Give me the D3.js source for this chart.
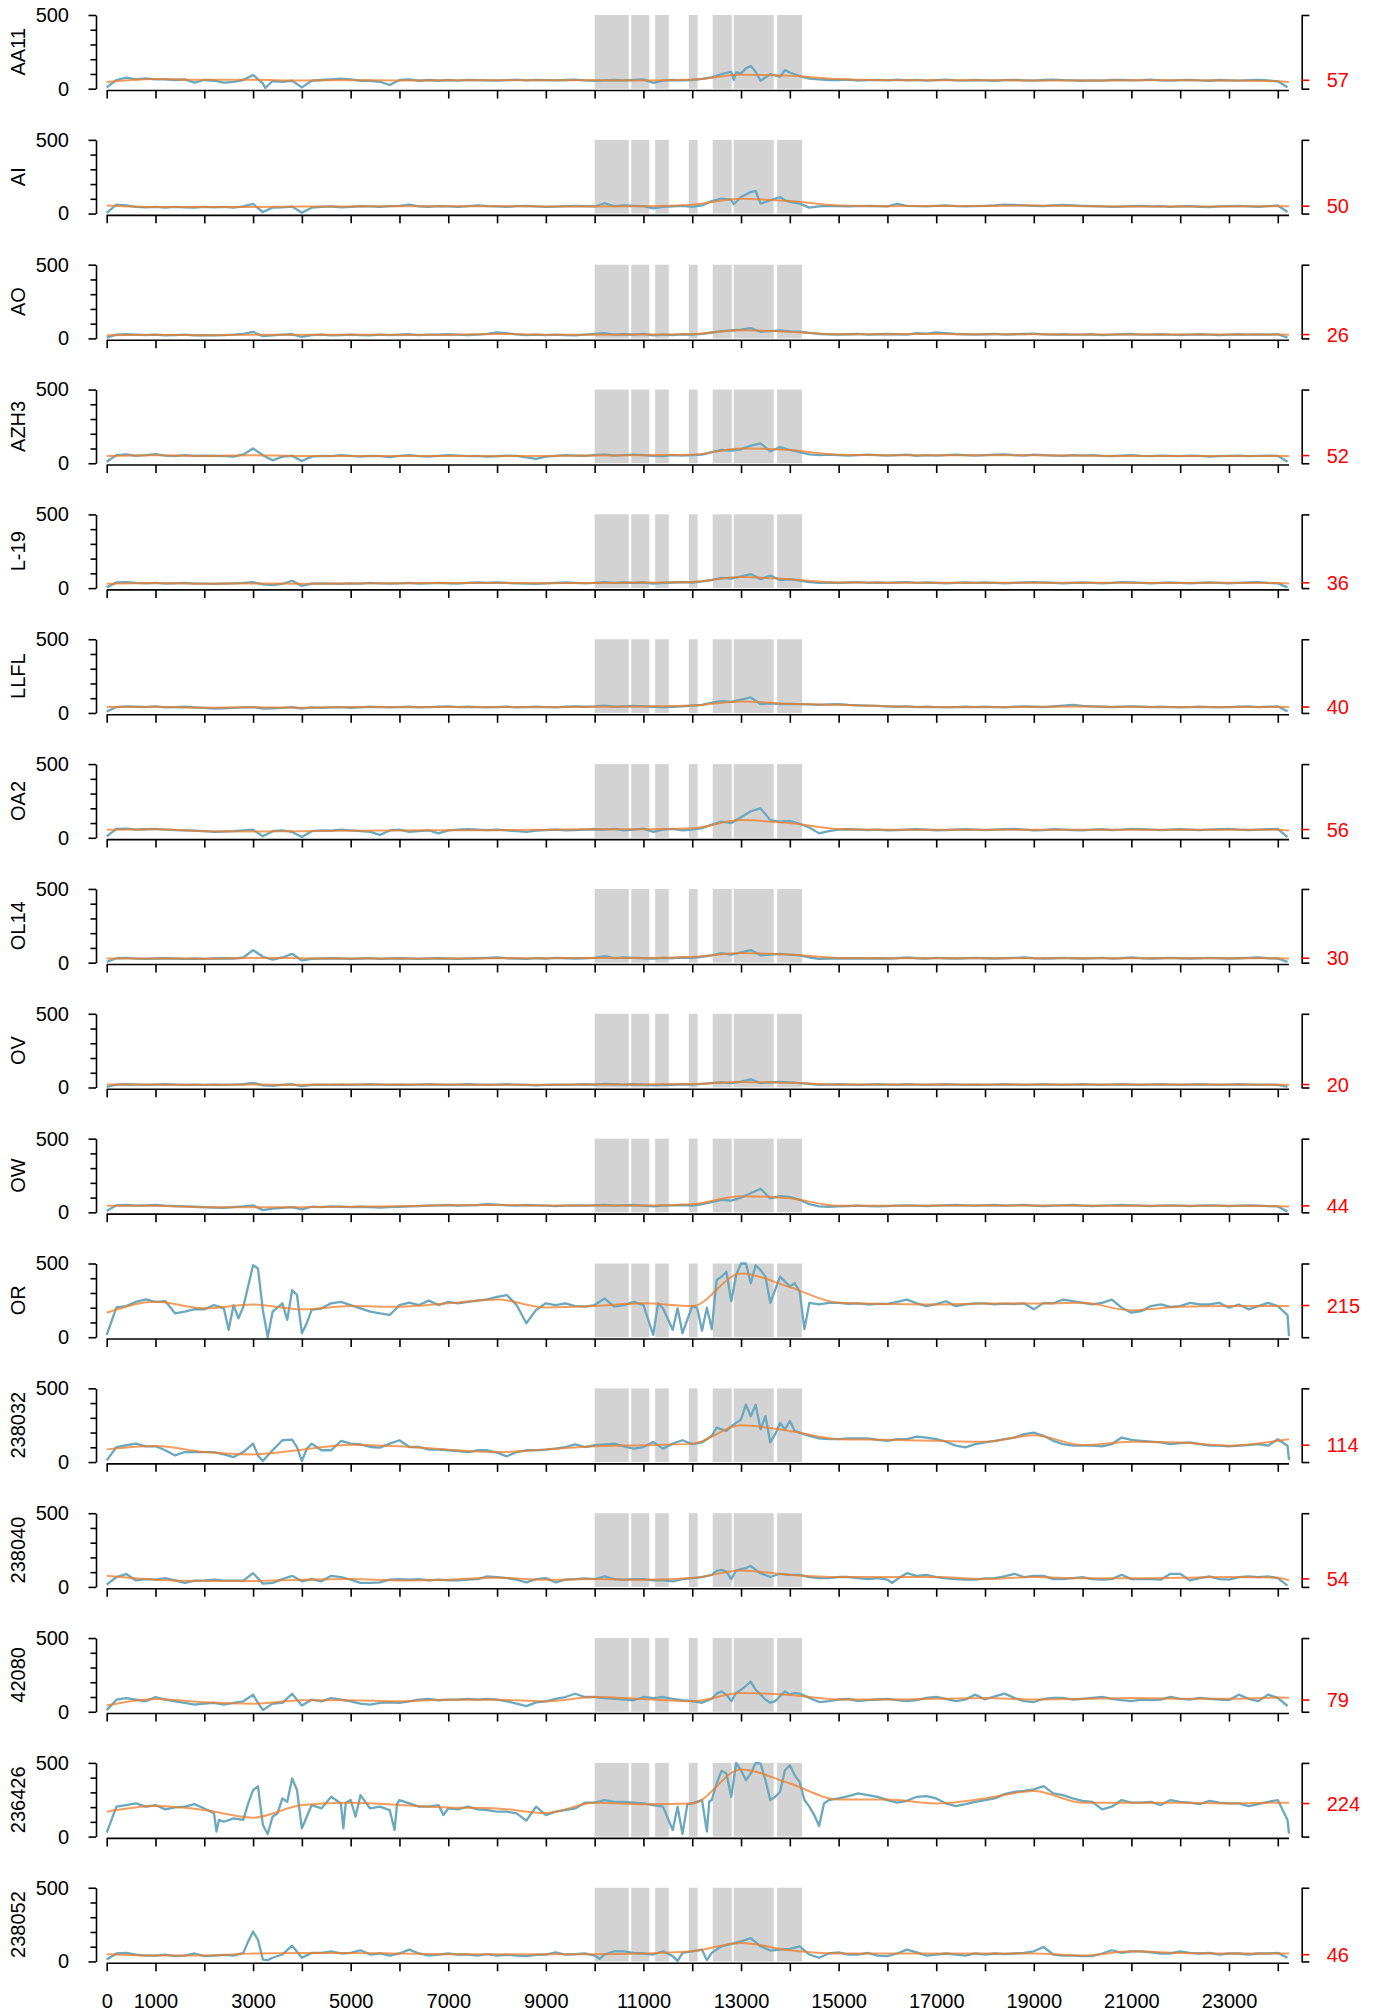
<!DOCTYPE html>
<html>
<head>
<meta charset="utf-8">
<title>series</title>
<script src="https://d3js.org/d3.v7.min.js"></script>
<style>
body { margin: 0; background: #fff; }
svg { display: block; font-family: "Liberation Sans", Arial, sans-serif; }
</style>
</head>
<body>
<script>
// station names and their mean values (red label on the right)
const stations = ["AA11", "AI", "AO", "AZH3", "L-19", "LLFL", "OA2", "OL14", "OV", "OW",
                  "OR", "238032", "238040", "42080", "236426", "238052"];
const stationMeans = [57, 50, 26, 52, 36, 40, 56, 30, 20, 44, 215, 114, 54, 79, 224, 46];

// shaded periods
const shadeStart = [10000, 10750, 11240, 11930, 12420, 12850, 13740];
const shadeEnd   = [10700, 11120, 11520, 12110, 12810, 13670, 14250];

// ticks
const xTicks = d3.range(0, 24001, 1000);
const xLabels = [0, 1000, 3000, 5000, 7000, 9000, 11000, 13000, 15000, 17000, 19000, 21000, 23000];
const yTicks = [0, 100, 200, 300, 400, 500];

// raw series sampled every 200 units (plus a few extra [x, value] points for sharp spikes)
const sampleStep = 200;
// smoothed series x positions
const smoothX = [0, 1000, 2000, 3000, 4000, 5000, 6000, 7000, 8000, 9000, 10000, 11000, 12000,
                 13000, 14000, 15000, 16000, 17000, 18000, 19000, 20000, 21000, 22000, 23000, 24000, 24230];

const rawAA11 = [9, 59, 75, 63, 70, 63, 63, 59, 63, 41,
 59, 54, 41, 47, 59, 93, 36, 52, 47, 54,
 9, 54, 59, 63, 68, 63, 54, 54, 47, 25,
 59, 63, 54, 59, 54, 59, 55, 60, 58, 56,
 55, 58, 62, 57, 60, 58, 56, 59, 61, 57,
 54, 57, 59, 56, 60, 63, 40, 55, 59, 57,
 59, 66, 77, 99, 115, 104, 154, 54, 99, 81,
 110, 86, 68, 63, 59, 59, 62, 55, 58, 60,
 57, 62, 56, 60, 55, 58, 61, 57, 55, 59,
 56, 54, 58, 60, 57, 55, 59, 61, 58, 56,
 54, 57, 55, 59, 60, 56, 58, 62, 57, 55,
 58, 60, 56, 54, 59, 57, 55, 58, 60, 56,
 50, 10];
const extrasAA11 = [[3250, 5], [12850, 59], [12900, 110], [13100, 138], [13300, 115], [13900, 127]];
const smoothAA11 = [45, 65, 60, 60, 55, 58, 55, 57, 57, 57, 57, 55, 62, 95, 88, 65, 58, 57, 57, 56, 56, 57, 57, 56, 50, 45];

const rawAI = [5, 60, 55, 45, 42, 45, 40, 45, 42, 40,
 45, 42, 45, 40, 48, 65, 10, 40, 42, 47,
 5, 40, 45, 48, 42, 45, 50, 48, 45, 50,
 52, 60, 48, 45, 50, 48, 45, 50, 55, 50,
 48, 45, 50, 52, 48, 45, 47, 50, 52, 50,
 48, 70, 50, 55, 52, 50, 35, 45, 48, 52,
 45, 55, 85, 101, 94, 112, 146, 67, 90, 112,
 79, 67, 40, 49, 52, 50, 48, 50, 52, 50,
 48, 65, 52, 50, 48, 52, 55, 50, 48, 50,
 52, 55, 60, 58, 55, 52, 50, 55, 58, 55,
 52, 50, 48, 45, 47, 50, 52, 48, 50, 45,
 48, 50, 46, 44, 48, 50, 52, 48, 45, 50,
 55, 10];
const extrasAI = [[12850, 63], [13300, 153], [13900, 90]];
const smoothAI = [55, 45, 45, 45, 47, 48, 50, 50, 50, 48, 48, 50, 60, 100, 85, 55, 50, 52, 52, 55, 50, 48, 48, 48, 50, 50];

const rawAO = [5, 25, 28, 25, 22, 25, 20, 22, 25, 20,
 22, 20, 22, 25, 30, 45, 15, 20, 25, 28,
 10, 22, 25, 20, 22, 25, 22, 20, 25, 22,
 25, 28, 22, 25, 25, 28, 25, 22, 25, 30,
 40, 35, 28, 22, 25, 22, 25, 22, 20, 25,
 30, 35, 25, 28, 25, 30, 20, 25, 22, 28,
 25, 30, 40, 50, 55, 60, 70, 45, 50, 55,
 48, 45, 38, 30, 28, 25, 28, 30, 25, 28,
 30, 28, 25, 35, 32, 40, 35, 30, 28, 25,
 28, 30, 25, 28, 30, 32, 28, 25, 28, 26,
 25, 28, 22, 25, 28, 30, 26, 25, 28, 25,
 24, 26, 28, 25, 22, 26, 28, 25, 27, 25,
 28, 5];
const smoothAO = [22, 25, 22, 25, 25, 24, 25, 25, 30, 25, 25, 26, 30, 55, 45, 28, 28, 30, 28, 28, 26, 26, 26, 26, 26, 25];

const rawAZH3 = [10, 55, 60, 50, 55, 62, 52, 48, 55, 50,
 52, 50, 48, 45, 60, 100, 55, 20, 45, 50,
 15, 45, 50, 48, 55, 50, 45, 50, 48, 42,
 50, 55, 48, 45, 50, 55, 52, 48, 50, 45,
 48, 52, 50, 40, 30, 45, 50, 55, 52, 50,
 55, 60, 52, 55, 58, 55, 50, 48, 55, 52,
 55, 58, 75, 90, 85, 95, 120, 135, 80, 110,
 90, 75, 60, 55, 58, 55, 52, 55, 58, 55,
 52, 55, 58, 50, 55, 52, 55, 58, 55, 52,
 55, 58, 60, 55, 52, 58, 55, 52, 50, 55,
 52, 55, 50, 48, 52, 55, 50, 48, 52, 50,
 48, 52, 50, 45, 48, 50, 52, 48, 50, 52,
 50, 10];
const smoothAZH3 = [50, 55, 50, 55, 50, 50, 50, 50, 48, 50, 52, 55, 58, 100, 90, 58, 55, 55, 55, 55, 52, 50, 50, 50, 50, 50];

const rawL19 = [5, 38, 40, 35, 32, 35, 30, 32, 35, 30,
 30, 28, 30, 32, 35, 40, 25, 20, 28, 50,
 15, 30, 32, 30, 28, 32, 30, 35, 32, 30,
 32, 35, 30, 32, 35, 32, 30, 35, 38, 35,
 38, 35, 32, 30, 28, 32, 35, 38, 35, 32,
 35, 40, 35, 38, 35, 38, 30, 35, 38, 40,
 38, 45, 55, 70, 65, 80, 95, 60, 85, 55,
 60, 50, 40, 35, 38, 35, 38, 40, 35, 38,
 35, 38, 40, 35, 38, 35, 32, 35, 38, 35,
 38, 35, 32, 35, 38, 40, 38, 35, 32, 35,
 38, 35, 32, 35, 40, 38, 35, 32, 35, 38,
 35, 32, 35, 38, 35, 32, 35, 38, 40, 35,
 32, 5];
const smoothL19 = [30, 35, 30, 32, 30, 32, 33, 35, 36, 33, 35, 38, 42, 75, 60, 38, 37, 36, 36, 36, 36, 36, 35, 36, 34, 32];

const rawLLFL = [10, 40, 45, 42, 40, 45, 38, 40, 42, 38,
 35, 30, 32, 35, 38, 40, 30, 32, 35, 40,
 30, 38, 35, 38, 40, 35, 38, 42, 40, 38,
 40, 42, 38, 40, 42, 45, 40, 42, 40, 38,
 40, 42, 38, 40, 42, 40, 38, 42, 45, 42,
 45, 50, 42, 45, 48, 45, 42, 40, 42, 45,
 50, 55, 70, 80, 75, 90, 105, 60, 65, 60,
 62, 60, 58, 55, 58, 60, 55, 52, 50, 48,
 45, 42, 45, 40, 42, 40, 38, 40, 42, 40,
 42, 40, 38, 42, 45, 42, 40, 45, 50, 55,
 48, 45, 42, 40, 42, 45, 42, 40, 42, 40,
 38, 40, 42, 40, 38, 40, 42, 45, 40, 42,
 45, 10];
const smoothLLFL = [40, 42, 35, 38, 36, 40, 40, 40, 40, 40, 42, 44, 50, 78, 62, 55, 45, 40, 40, 42, 44, 42, 40, 40, 40, 40];

const rawOA2 = [10, 60, 62, 55, 58, 60, 55, 52, 50, 48,
 45, 40, 42, 45, 50, 55, 10, 45, 50, 40,
 5, 45, 50, 48, 55, 50, 45, 40, 20, 50,
 55, 40, 45, 50, 30, 50, 55, 58, 55, 52,
 55, 50, 45, 40, 48, 52, 55, 50, 52, 55,
 58, 55, 60, 50, 55, 62, 40, 55, 60, 50,
 55, 65, 90, 110, 100, 140, 180, 200, 120, 110,
 115, 95, 70, 30, 45, 55, 58, 55, 52, 55,
 50, 52, 55, 58, 55, 50, 52, 55, 58, 55,
 52, 55, 58, 60, 55, 50, 52, 58, 55, 52,
 50, 55, 58, 52, 55, 60, 58, 55, 52, 55,
 58, 55, 52, 55, 58, 60, 55, 52, 55, 58,
 60, 5];
const smoothOA2 = [55, 58, 45, 42, 45, 48, 50, 52, 52, 55, 58, 58, 65, 120, 100, 60, 55, 55, 55, 55, 55, 55, 55, 55, 55, 50];

const rawOL14 = [5, 30, 32, 28, 25, 28, 30, 28, 25, 28,
 25, 28, 30, 28, 35, 85, 40, 20, 35, 60,
 15, 25, 28, 30, 28, 25, 28, 30, 25, 28,
 30, 28, 25, 28, 30, 28, 25, 28, 30, 32,
 35, 30, 28, 25, 30, 28, 32, 30, 28, 30,
 32, 45, 30, 35, 32, 30, 28, 32, 30, 35,
 32, 40, 50, 65, 55, 70, 85, 50, 55, 60,
 55, 50, 35, 25, 28, 30, 28, 30, 28, 30,
 28, 30, 35, 30, 28, 32, 30, 28, 30, 32,
 30, 28, 30, 32, 35, 30, 28, 30, 32, 30,
 28, 30, 32, 28, 30, 35, 30, 28, 30, 32,
 30, 28, 30, 32, 30, 28, 30, 32, 35, 30,
 28, 5];
const smoothOL14 = [28, 28, 27, 32, 30, 28, 28, 28, 30, 30, 32, 32, 38, 65, 55, 32, 30, 30, 30, 30, 30, 30, 30, 30, 30, 28];

const rawOV = [5, 20, 22, 20, 18, 20, 22, 20, 18, 20,
 18, 20, 18, 20, 22, 32, 15, 12, 18, 22,
 10, 18, 20, 18, 20, 18, 20, 22, 20, 18,
 20, 18, 20, 22, 20, 18, 20, 22, 20, 18,
 20, 22, 20, 18, 15, 18, 20, 18, 20, 22,
 20, 25, 22, 20, 22, 20, 15, 20, 18, 22,
 20, 25, 30, 35, 30, 40, 55, 30, 35, 38,
 35, 30, 25, 18, 20, 22, 20, 18, 20, 22,
 20, 18, 22, 20, 18, 20, 22, 20, 18, 20,
 18, 20, 22, 20, 18, 20, 22, 20, 18, 20,
 22, 20, 18, 20, 22, 20, 18, 20, 22, 20,
 18, 20, 22, 20, 18, 20, 22, 20, 18, 20,
 18, 5];
const smoothOV = [20, 20, 19, 20, 19, 20, 20, 20, 19, 19, 20, 21, 24, 38, 32, 20, 20, 20, 20, 20, 20, 20, 20, 20, 19, 18];

const rawOW = [10, 48, 50, 45, 48, 50, 45, 42, 40, 38,
 35, 32, 30, 35, 40, 48, 15, 25, 30, 35,
 20, 38, 35, 40, 38, 35, 38, 35, 32, 35,
 38, 40, 42, 45, 48, 50, 45, 48, 50, 55,
 52, 48, 45, 50, 48, 45, 42, 45, 48, 45,
 48, 50, 45, 48, 50, 45, 40, 45, 48, 50,
 45, 55, 70, 85, 80, 100, 130, 160, 95, 110,
 105, 85, 55, 40, 38, 40, 42, 45, 42, 40,
 42, 45, 48, 45, 42, 45, 48, 50, 48, 45,
 48, 50, 45, 48, 50, 45, 42, 45, 48, 50,
 45, 42, 45, 48, 50, 48, 45, 42, 45, 48,
 45, 42, 45, 48, 45, 42, 45, 48, 45, 42,
 40, 5];
const smoothOW = [45, 45, 35, 35, 35, 38, 42, 48, 50, 46, 46, 46, 55, 110, 95, 45, 45, 46, 46, 46, 46, 45, 45, 45, 42, 40];

const rawOR = [16, 203, 211, 240, 256, 240, 245, 162, 173, 190,
 189, 218, 196, 218, 207, 488, 185, 173, 230, 320,
 27, 185, 196, 230, 240, 218, 196, 173, 162, 151,
 218, 234, 218, 248, 218, 240, 230, 240, 248, 256,
 274, 286, 218, 95, 185, 230, 218, 230, 211, 207,
 218, 263, 207, 218, 240, 218, 16, 196, 50, 27,
 211, 44, 55, 410, 244, 500, 366, 455, 233, 411,
 344, 311, 233, 222, 233, 233, 226, 230, 222, 226,
 226, 240, 255, 230, 211, 225, 244, 211, 222, 230,
 229, 222, 228, 225, 230, 189, 233, 230, 255, 244,
 233, 222, 233, 255, 200, 166, 177, 211, 222, 206,
 211, 233, 222, 222, 233, 200, 222, 189, 211, 233,
 211, 150];
const extrasOR = [[2500, 50], [2700, 128], [3100, 466], [3300, 0], [3700, 117], [3900, 286], [4100, 95],
 [11300, 230], [11700, 196], [12100, 200], [12300, 200], [12500, 388], [12700, 444], [12900, 422],
 [13100, 500], [13300, 488], [13500, 411], [13700, 322], [13900, 377], [14100, 366], [14300, 55], [24230, 7]];
const smoothOR = [166, 240, 196, 222, 189, 211, 207, 230, 256, 202, 211, 230, 211, 433, 340, 233, 226, 222, 229, 229, 233, 182, 206, 211, 211, 211];

const raw238032 = [11, 102, 114, 125, 107, 107, 80, 45, 68, 68,
 68, 68, 52, 34, 68, 125, 7, 80, 148, 152,
 7, 125, 80, 80, 143, 125, 120, 102, 98, 125,
 148, 102, 102, 84, 84, 80, 75, 68, 80, 80,
 64, 39, 68, 80, 80, 84, 91, 102, 120, 102,
 114, 120, 125, 107, 91, 102, 136, 91, 125, 148,
 122, 133, 178, 222, 244, 289, 311, 222, 133, 266,
 278, 200, 178, 160, 155, 155, 160, 160, 160, 151,
 144, 155, 155, 173, 166, 155, 138, 111, 100, 122,
 133, 144, 155, 166, 189, 200, 178, 144, 122, 111,
 111, 111, 107, 122, 166, 151, 144, 138, 133, 122,
 129, 133, 122, 111, 111, 107, 111, 115, 122, 111,
 155, 111];
const extras238032 = [[3100, 45], [3300, 45], [3900, 102], [4100, 90], [12500, 233], [12700, 211], [12900, 266],
 [13100, 389], [13300, 389], [13500, 311], [13700, 189], [13900, 222], [14100, 211], [24230, 15]];
const smooth238032 = [86, 109, 68, 52, 84, 118, 107, 84, 68, 86, 107, 114, 125, 249, 211, 155, 151, 144, 138, 182, 115, 138, 133, 111, 144, 155];

const raw238040 = [16, 67, 87, 44, 53, 49, 60, 44, 27, 42,
 44, 49, 42, 42, 42, 93, 22, 27, 53, 75,
 38, 53, 38, 75, 67, 49, 27, 27, 31, 49,
 53, 49, 53, 44, 49, 44, 44, 49, 53, 71,
 67, 60, 49, 31, 53, 60, 31, 49, 53, 58,
 53, 71, 53, 49, 53, 53, 44, 44, 38, 53,
 60, 67, 82, 115, 53, 120, 142, 93, 67, 89,
 82, 82, 67, 60, 60, 67, 67, 60, 53, 60,
 49, 53, 93, 75, 82, 67, 58, 53, 49, 49,
 58, 60, 71, 89, 67, 75, 75, 53, 53, 60,
 67, 53, 49, 53, 82, 53, 53, 53, 49, 89,
 89, 44, 60, 71, 53, 49, 67, 71, 67, 71,
 60, 9];
const extras238040 = [[12500, 109], [12700, 104], [12900, 111], [13100, 127], [13300, 115], [16100, 27]];
const smooth238040 = [75, 49, 40, 40, 49, 53, 44, 49, 62, 49, 53, 49, 60, 111, 82, 67, 67, 67, 53, 67, 58, 58, 62, 67, 62, 44];

const raw42080 = [11, 82, 93, 82, 71, 100, 82, 71, 60, 49,
 55, 60, 49, 60, 71, 115, 11, 55, 60, 122,
 42, 82, 71, 93, 82, 71, 55, 49, 60, 64,
 60, 71, 82, 87, 78, 82, 82, 87, 82, 87,
 82, 71, 55, 38, 64, 71, 87, 100, 122, 100,
 100, 93, 87, 82, 78, 100, 93, 100, 87, 78,
 72, 61, 88, 138, 72, 149, 204, 116, 61, 105,
 116, 123, 94, 66, 72, 83, 88, 72, 79, 83,
 88, 79, 72, 79, 94, 101, 88, 72, 83, 116,
 83, 105, 123, 94, 72, 66, 88, 94, 94, 83,
 88, 94, 101, 88, 79, 72, 83, 79, 83, 101,
 88, 83, 94, 88, 83, 79, 116, 88, 72, 116,
 94, 39];
const extras42080 = [[3100, 60], [3900, 82], [12500, 123], [12700, 116], [12900, 127], [13100, 175],
 [13300, 149], [13500, 83], [13700, 72], [13900, 138], [14100, 127]];
const smooth42080 = [42, 87, 64, 55, 78, 78, 71, 82, 82, 71, 100, 87, 71, 127, 114, 83, 83, 88, 94, 83, 88, 94, 88, 88, 96, 95];

const raw236426 = [27, 203, 214, 225, 203, 214, 185, 198, 203, 220,
 191, 158, 101, 124, 113, 315, 79, 135, 259, 394,
 56, 214, 191, 270, 225, 248, 281, 191, 203, 180,
 248, 225, 203, 203, 214, 191, 185, 203, 185, 180,
 169, 169, 158, 108, 203, 146, 169, 180, 191, 230,
 230, 248, 236, 236, 230, 225, 214, 203, 45, 18,
 225, 248, 248, 446, 270, 450, 428, 495, 248, 304,
 484, 371, 203, 72, 248, 259, 274, 293, 281, 270,
 248, 230, 243, 270, 274, 259, 225, 207, 220, 236,
 248, 259, 288, 304, 310, 320, 342, 293, 281, 259,
 243, 236, 185, 203, 248, 230, 230, 236, 214, 248,
 236, 230, 220, 243, 230, 225, 225, 207, 220, 236,
 248, 113];
const extras236426 = [[2250, 34], [2300, 113], [2900, 225], [3100, 342], [3300, 18], [3500, 158], [3700, 236],
 [3900, 315], [4100, 135], [4850, 56], [4900, 230], [5100, 135], [5900, 45], [5950, 220], [6900, 146],
 [11700, 203], [11900, 220], [12300, 34], [12350, 240], [12500, 360], [12700, 428], [12900, 500],
 [13100, 383], [13300, 500], [13500, 383], [13700, 270], [13900, 450], [14100, 416], [14300, 248],
 [14500, 146], [14700, 225], [24230, 20]];
const smooth236426 = [169, 207, 180, 128, 214, 230, 214, 198, 191, 160, 230, 220, 225, 455, 360, 252, 252, 225, 259, 310, 230, 230, 230, 225, 230, 230];

const raw238052 = [13, 54, 58, 47, 40, 40, 47, 36, 40, 54,
 36, 40, 45, 40, 58, 203, 13, 25, 47, 107,
 25, 58, 58, 69, 54, 58, 76, 47, 54, 40,
 54, 80, 54, 40, 47, 54, 47, 47, 40, 49,
 40, 45, 40, 36, 45, 47, 62, 47, 49, 54,
 40, 47, 69, 69, 58, 54, 47, 69, 36, 58,
 69, 80, 58, 103, 120, 136, 158, 103, 74, 80,
 85, 103, 47, 25, 54, 62, 47, 47, 58, 40,
 36, 54, 80, 62, 40, 47, 54, 47, 40, 54,
 47, 54, 49, 54, 58, 69, 98, 47, 40, 40,
 36, 36, 54, 76, 58, 69, 69, 62, 54, 54,
 69, 58, 54, 58, 47, 54, 54, 47, 54, 54,
 58, 25];
const extras238052 = [[2900, 136], [3100, 147], [3300, 9], [10100, 18], [11700, 2], [12300, 9]];
const smooth238052 = [49, 40, 40, 54, 58, 58, 54, 49, 49, 49, 49, 54, 69, 125, 76, 54, 54, 54, 54, 54, 40, 69, 58, 54, 54, 54];

const rawSeries = [rawAA11, rawAI, rawAO, rawAZH3, rawL19, rawLLFL, rawOA2, rawOL14, rawOV, rawOW,
                   rawOR, raw238032, raw238040, raw42080, raw236426, raw238052];
const extraSeries = [extrasAA11, extrasAI, [], [], [], [], [], [], [], [],
                     extrasOR, extras238032, extras238040, extras42080, extras236426, extras238052];
const smoothSeries = [smoothAA11, smoothAI, smoothAO, smoothAZH3, smoothL19, smoothLLFL, smoothOA2, smoothOL14, smoothOV, smoothOW,
                      smoothOR, smooth238032, smooth238040, smooth42080, smooth236426, smooth238052];

var w = 1382;
var h = 2014;
var svg = d3.select('body').append('svg')
            .attr('width', w)
            .attr('height', h);

svg.append('rect').attr('width', '100%').attr('height', '100%').attr('fill', '#fff');

var x = d3.scaleLinear().domain([0, 24230]).range([106.7, 1289]);

stations.forEach(function(name, k) {
    var top = 15 + k * 124.85;
    var y = d3.scaleLinear().domain([0, 500]).range([top + 73.7, top]);
    var g = svg.append('g');

    // gray periods
    g.selectAll('rect.shade')
      .data(d3.zip(shadeStart, shadeEnd))
      .enter()
      .append('rect')
      .attr('x', function(d) { return x(d[0]); })
      .attr('width', function(d) { return x(d[1]) - x(d[0]); })
      .attr('y', y(500))
      .attr('height', y(0) - y(500))
      .attr('fill', '#d3d3d3');

    // raw line: grid samples + spike points, ordered by x
    var pts = rawSeries[k].map(function(v, i) { return [i * sampleStep, v]; })
        .concat(extraSeries[k])
        .sort(function(a, b) { return a[0] - b[0]; });
    var rawLine = d3.line()
        .x(function(d) { return x(d[0]); })
        .y(function(d) { return y(d[1]); });
    g.append('path')
      .datum(pts)
      .attr('d', rawLine)
      .attr('fill', 'none')
      .attr('stroke', '#6ba8bd')
      .attr('stroke-width', 2.3)
      .attr('stroke-linejoin', 'round');

    // smooth line
    var smoothLine = d3.line()
        .x(function(d, i) { return x(smoothX[i]); })
        .y(function(d) { return y(d); })
        .curve(d3.curveMonotoneX);
    g.append('path')
      .datum(smoothSeries[k])
      .attr('d', smoothLine)
      .attr('fill', 'none')
      .attr('stroke', '#ee7d2c')
      .attr('stroke-opacity', 0.75)
      .attr('stroke-width', 2);

    // left axis
    var yAxis = d3.axisLeft(y)
        .tickValues(yTicks)
        .tickSize(7.5)
        .tickSizeOuter(0)
        .tickPadding(19.5)
        .tickFormat(function(d) { return (d === 0 || d === 500) ? d : ''; });
    var ya = g.append('g').attr('transform', 'translate(96,0)').call(yAxis);
    ya.selectAll('.tick line').filter(function(d) { return d !== 0 && d !== 500; }).attr('x2', -5.5);

    // bottom axis
    var xAxis = d3.axisBottom(x)
        .tickValues(xTicks)
        .tickSize(8)
        .tickSizeOuter(0)
        .tickPadding(22.5)
        .tickFormat(function(d) { return (k === stations.length - 1 && xLabels.indexOf(d) >= 0) ? d : ''; });
    var xa = g.append('g').attr('transform', 'translate(0,' + (top + 75.5) + ')').call(xAxis);
    xa.select('.domain').attr('d', 'M' + x(0) + ',0H' + x(24230));

    // right axis
    var rAxis = d3.axisRight(y).tickValues([0, 500]).tickSize(7.7).tickSizeOuter(0).tickFormat('');
    g.append('g').attr('transform', 'translate(1301.7,0)').call(rAxis);

    [ya, xa].forEach(function(a) {
        a.selectAll('text').attr('font-size', 20).attr('font-family', '"Liberation Sans", Arial, sans-serif').attr('fill', '#000');
    });
    g.selectAll('.domain, .tick line').attr('stroke', '#000').attr('stroke-width', 1.6);

    // mean marker
    g.append('line')
      .attr('x1', 1301.7).attr('x2', 1309.4)
      .attr('y1', y(stationMeans[k])).attr('y2', y(stationMeans[k]))
      .attr('stroke', 'red').attr('stroke-width', 1.6);
    g.append('text')
      .attr('x', 1326.7).attr('y', y(stationMeans[k]))
      .attr('dy', '0.35em')
      .attr('font-size', 20)
      .attr('fill', 'red')
      .text(stationMeans[k]);

    // station label
    g.append('text')
      .attr('transform', 'translate(25,' + (top + 36.85) + ') rotate(-90)')
      .attr('text-anchor', 'middle')
      .attr('font-size', 20)
      .attr('fill', '#000')
      .text(name);
});
</script>
</body>
</html>
